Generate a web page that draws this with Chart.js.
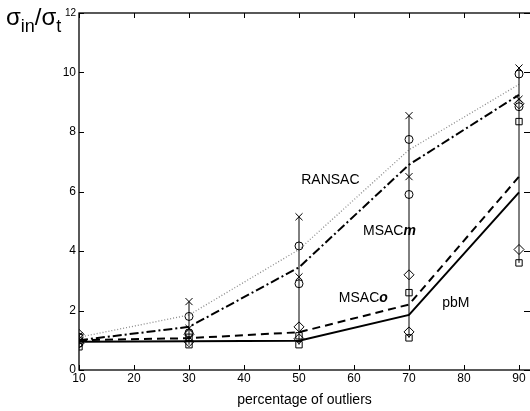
<!DOCTYPE html>
<html>
<head>
<meta charset="utf-8">
<script src="https://cdn.jsdelivr.net/npm/chart.js@4"></script>
<style>
  html, body { margin: 0; padding: 0; background: #fff; }
  #wrap { width: 530px; height: 411px; }
</style>
</head>
<body>
<div id="wrap"><canvas id="c" width="530" height="411"></canvas></div>
<script>
// outlier percentages
const outliers = [10, 30, 50, 70, 90];

// sigma_in / sigma_t for each estimator
const ransac = [1.1, 1.85, 4.05, 7.4, 9.6];
const msacM  = [1.0, 1.45, 3.45, 6.9, 9.25];
const msacO  = [1.0, 1.07, 1.27, 2.2, 6.5];
const pbm    = [0.95, 0.97, 0.98, 1.85, 5.97];

// spread markers at each percentage
const crossHigh   = [1.15, 2.3, 5.15, 8.55, 10.15];
const crossLow    = [0.95, 1.4, 3.13, 6.5, 9.1];
const circleHigh  = [1.1, 1.8, 4.17, 7.75, 9.95];
const circleLow   = [0.9, 1.25, 2.9, 5.9, 8.85];
const diamondHigh = [1.2, 1.2, 1.45, 3.2, 8.95];
const diamondLow  = [0.9, 0.95, 1.05, 1.28, 4.05];
const squareHigh  = [1.1, 1.1, 1.15, 2.6, 8.35];
const squareLow   = [0.78, 0.85, 0.85, 1.08, 3.6];

const yTicks = [0, 2, 4, 6, 8, 10, 12];
const xTicks = [10, 20, 30, 40, 50, 60, 70, 80, 90];

// curve labels placed at data coordinates
const curveLabels = [
  { text: 'RANSAC', suffix: '', x: 55.7, y: 6.38 },
  { text: 'MSAC', suffix: 'm', x: 66.45, y: 4.68 },
  { text: 'MSAC', suffix: 'o', x: 61.7, y: 2.42 },
  { text: 'pbM', suffix: '', x: 78.5, y: 2.26 }
];

const FONT = '"Liberation Sans", Arial, sans-serif';
const pts = arr => arr.map((v, i) => ({ x: outliers[i], y: v }));

const markerSets = [
  [crossHigh, 'crossRot', 5], [crossLow, 'crossRot', 5],
  [circleHigh, 'circle', 4], [circleLow, 'circle', 4],
  [diamondHigh, 'rectRot', 5], [diamondLow, 'rectRot', 5],
  [squareHigh, 'rect', 4.5], [squareLow, 'rect', 4.5]
];

const datasets = [];

// vertical spread bars from lowest to highest marker
outliers.forEach((x, i) => {
  const vals = markerSets.map(m => m[0][i]);
  datasets.push({
    type: 'line',
    data: [{ x: x, y: Math.min(...vals) }, { x: x, y: Math.max(...vals) }],
    borderColor: '#000', borderWidth: 1, pointRadius: 0
  });
});

datasets.push(
  { type: 'line', data: pts(ransac), borderColor: '#8a8a8a', borderWidth: 1.3, borderDash: [1, 2], pointRadius: 0 },
  { type: 'line', data: pts(msacM), borderColor: '#000', borderWidth: 2, borderDash: [9, 3, 2, 3], pointRadius: 0 },
  { type: 'line', data: pts(msacO), borderColor: '#000', borderWidth: 2, borderDash: [8, 5], pointRadius: 0 },
  { type: 'line', data: pts(pbm), borderColor: '#000', borderWidth: 2, pointRadius: 0 }
);

markerSets.forEach(m => {
  datasets.push({
    type: 'scatter', data: pts(m[0]), pointStyle: m[1], pointRadius: m[2],
    borderColor: '#000', borderWidth: 1, backgroundColor: 'rgba(0,0,0,0)'
  });
});

// box with inward ticks, x tick labels, curve labels and the y title
const decorations = {
  id: 'decorations',
  afterDraw(chart) {
    const ctx = chart.ctx;
    const a = chart.chartArea;
    const xs = chart.scales.x, ys = chart.scales.y;
    ctx.save();
    ctx.strokeStyle = '#000';
    ctx.lineWidth = 1.3;
    ctx.strokeRect(a.left, a.top, a.right - a.left + 3, a.bottom - a.top);
    ctx.lineWidth = 1;
    ctx.beginPath();
    xTicks.forEach(t => {
      const px = Math.round(xs.getPixelForValue(t)) + 0.5;
      ctx.moveTo(px, a.bottom); ctx.lineTo(px, a.bottom - 5);
      ctx.moveTo(px, a.top); ctx.lineTo(px, a.top + 5);
    });
    yTicks.forEach(t => {
      const py = Math.round(ys.getPixelForValue(t)) + 0.5;
      ctx.moveTo(a.left, py); ctx.lineTo(a.left + 5, py);
      ctx.moveTo(a.right, py); ctx.lineTo(a.right - 6, py);
    });
    ctx.stroke();

    ctx.fillStyle = '#000';
    ctx.font = '12px ' + FONT;
    ctx.textAlign = 'center';
    ctx.textBaseline = 'middle';
    xTicks.forEach(t => ctx.fillText(String(t), xs.getPixelForValue(t), a.bottom + 9));

    curveLabels.forEach(l => {
      ctx.font = '14px ' + FONT;
      const w1 = ctx.measureText(l.text).width;
      ctx.font = 'italic bold 14px ' + FONT;
      const w2 = l.suffix ? ctx.measureText(l.suffix).width : 0;
      const px = xs.getPixelForValue(l.x) - (w1 + w2) / 2;
      const py = ys.getPixelForValue(l.y);
      ctx.font = '14px ' + FONT;
      ctx.textAlign = 'left';
      ctx.fillText(l.text, px, py);
      if (l.suffix) {
        ctx.font = 'italic bold 14px ' + FONT;
        ctx.fillText(l.suffix, px + w1, py);
      }
    });

    // sigma_in / sigma_t
    ctx.textBaseline = 'alphabetic';
    ctx.textAlign = 'left';
    let x = 6;
    const big = '24px ' + FONT;
    const sub = '18px ' + FONT;
    ctx.font = big; ctx.fillText('σ', x, 25); x += ctx.measureText('σ').width;
    ctx.font = sub; ctx.fillText('in', x, 32); x += ctx.measureText('in').width;
    ctx.font = big; ctx.fillText('/', x, 25); x += ctx.measureText('/').width;
    ctx.fillText('σ', x, 25); x += ctx.measureText('σ').width;
    ctx.font = sub; ctx.fillText('t', x, 32);
    ctx.restore();
  }
};

new Chart(document.getElementById('c'), {
  data: { datasets: datasets },
  options: {
    responsive: false,
    animation: false,
    layout: { autoPadding: false, padding: { top: 13, right: 0, bottom: 0, left: 0 } },
    plugins: { legend: { display: false }, tooltip: { enabled: false } },
    scales: {
      x: {
        type: 'linear', min: 10, max: 92,
        afterFit: s => { s.height = 41; },
        grid: { display: false }, border: { display: false },
        ticks: { display: false },
        title: { display: true, text: 'percentage of outliers', color: '#000', padding: { top: 0, bottom: 2 }, font: { family: FONT, size: 14 } }
      },
      y: {
        type: 'linear', min: 0, max: 12,
        afterFit: s => { s.width = 79; },
        afterBuildTicks: s => { s.ticks = yTicks.map(v => ({ value: v })); },
        grid: { display: false, drawTicks: false }, border: { display: false },
        ticks: {
          color: '#000', padding: 3,
          font: ctx => ({ family: FONT, size: ctx.tick && ctx.tick.value === 12 ? 10 : 12 })
        }
      }
    }
  },
  plugins: [decorations]
});
</script>
</body>
</html>
